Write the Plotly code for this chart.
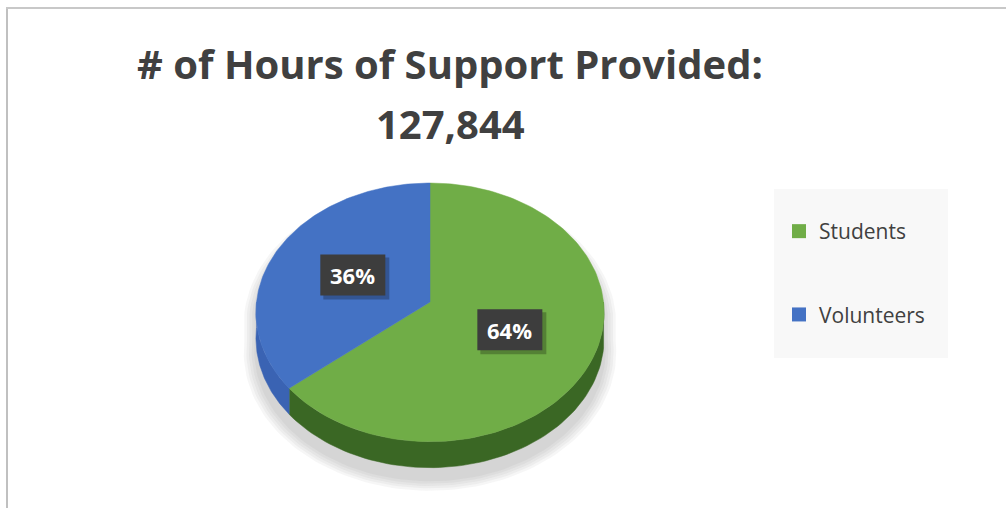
import numpy as np
import plotly.graph_objects as go

# ---------------- data ----------------
categories = ["Students", "Volunteers"]
values = [64, 36]
label_texts = ["64%", "36%"]
title_line1 = "# of Hours of Support Provided:"
title_line2 = "127,844"

# ---------------- style ----------------
top_colors = ["#70ad47", "#4472c4"]
side_colors = ["#3a6724", "#3a63b3"]
TEXT = "#404040"
FONT = "Open Sans"

W, H = 1006, 508
CX, CY = 430.0, 302.0     # projected pie centre
A, B = 173.5, 128.5       # ellipse radii
K = 0.08                  # perspective factor
D = 26.0                  # pie thickness


def proj(r, theta_deg):
    t = np.radians(theta_deg)
    u = r * np.cos(t)
    v = r * np.sin(t)
    w = 1 + K * v
    return CX + A * u / w, CY - B * v / w


fig = go.Figure()

# ---- soft shadow ----
th_back = np.linspace(0, 180, 90)
th_front = np.linspace(180, 360, 90)
bx, by = proj(1, th_back)
fx, fy = proj(1, th_front)
sil_x = np.concatenate([bx, fx])
sil_y = np.concatenate([by, fy + D])
scx, scy = CX, CY + 20
for i, e in enumerate([1.07, 1.055, 1.04, 1.025, 1.01]):
    fig.add_trace(go.Scatter(
        x=scx + (sil_x - CX) * e, y=scy + (sil_y - CY - 8) * e,
        fill="toself", mode="lines", line=dict(width=0),
        fillcolor="rgba(90,90,90,0.055)", hoverinfo="skip", showlegend=False))

# ---- slices ----
total = sum(values)
start = 90.0
ranges = []
for v in values:
    end = start - 360.0 * v / total
    ranges.append((end, start))
    start = end

# sides (front half: theta in [-180, 0])
for (lo, hi), col in zip(ranges, side_colors):
    for shift in (-360, 0, 360):
        a, b = max(lo + shift, -180), min(hi + shift, 0)
        if b > a:
            th = np.linspace(a, b, 80)
            x1, y1 = proj(1, th)
            xs = np.concatenate([x1, x1[::-1]])
            ys = np.concatenate([y1, (y1 + D)[::-1]])
            fig.add_trace(go.Scatter(
                x=xs, y=ys, fill="toself", mode="lines",
                line=dict(width=0.5, color=col), fillcolor=col,
                hoverinfo="skip", showlegend=False))

# top faces
for (lo, hi), col, cat in zip(ranges, top_colors, categories):
    th = np.linspace(lo, hi, 150)
    x1, y1 = proj(1, th)
    xs = np.concatenate([[CX], x1, [CX]])
    ys = np.concatenate([[CY], y1, [CY]])
    fig.add_trace(go.Scatter(
        x=xs, y=ys, fill="toself", mode="lines",
        line=dict(width=0.5, color=col), fillcolor=col,
        hoverinfo="skip", showlegend=False, name=cat))

# legend entries
for cat, col in zip(categories, top_colors):
    fig.add_trace(go.Scatter(
        x=[None], y=[None], mode="markers", name=cat, legendgroup=cat,
        marker=dict(symbol="square", size=14, color=col)))

shapes = []
annotations = []

# data labels
BW, BH = 65, 41
for (lo, hi), txt in zip(ranges, label_texts):
    mid = (lo + hi) / 2
    lx, ly = proj(0.5, mid)
    shapes.append(dict(type="rect", xref="x", yref="y",
                       x0=lx - BW / 2 + 3, x1=lx + BW / 2 + 4,
                       y0=ly - BH / 2 + 3, y1=ly + BH / 2 + 4,
                       fillcolor="rgba(0,0,0,0.25)", line=dict(width=0), layer="above"))
    shapes.append(dict(type="rect", xref="x", yref="y",
                       x0=lx - BW / 2, x1=lx + BW / 2,
                       y0=ly - BH / 2, y1=ly + BH / 2,
                       fillcolor="#3d3d3d", line=dict(width=0), layer="above"))
    annotations.append(dict(x=lx, y=ly, xref="x", yref="y", text="<b>%s</b>" % txt,
                            showarrow=False, font=dict(family=FONT, size=22, color="white")))

# legend box
shapes.append(dict(type="rect", xref="x", yref="y", x0=774, x1=948, y0=189, y1=358,
                   fillcolor="#f8f8f8", line=dict(width=0), layer="below"))

# frame lines
shapes.append(dict(type="line", xref="x", yref="y", x0=7, x1=7, y0=8, y1=H,
                   line=dict(color="#c0c0c0", width=2)))
shapes.append(dict(type="line", xref="x", yref="y", x0=6, x1=W, y0=8, y1=8,
                   line=dict(color="#c8c8c8", width=2)))

# title
annotations.append(dict(x=450, y=63, xref="x", yref="y", text="<b>%s</b>" % title_line1,
                        showarrow=False, font=dict(family=FONT, size=40, color=TEXT)))
annotations.append(dict(x=450, y=123, xref="x", yref="y", text="<b>%s</b>" % title_line2,
                        showarrow=False, font=dict(family=FONT, size=40, color=TEXT)))

fig.update_layout(
    width=W, height=H, autosize=False,
    margin=dict(l=0, r=0, t=0, b=0, pad=0),
    paper_bgcolor="white", plot_bgcolor="white",
    xaxis=dict(range=[0, W], visible=False, fixedrange=True),
    yaxis=dict(range=[H, 0], visible=False, fixedrange=True),
    shapes=shapes, annotations=annotations,
    showlegend=True,
    legend=dict(x=779 / W, y=1 - 211 / H, xanchor="left", yanchor="top",
                bgcolor="rgba(0,0,0,0)", traceorder="grouped", tracegroupgap=53,
                font=dict(family=FONT, size=21, color=TEXT), itemsizing="trace"),
)

fig.write_html("out.html", post_script="document.body.style.margin='0';",
               config={"displayModeBar": False})
